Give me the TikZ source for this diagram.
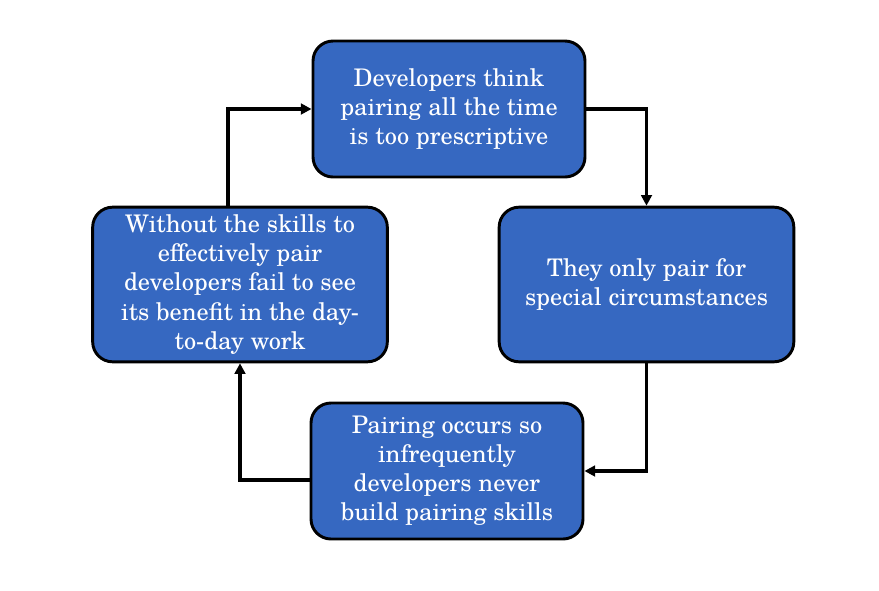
\documentclass[tikz,border=0pt]{standalone}
\usepackage{fontspec}
\setmainfont{TeX Gyre Schola}
\usepackage{tikz}
\usetikzlibrary{arrows.meta,positioning}
\definecolor{boxblue}{RGB}{54,104,193}
\tikzset{
  box/.style={rectangle,rounded corners=15pt,draw=black,line width=2.2pt,fill=boxblue,
              text=white,align=center,inner sep=4pt,
              font=\fontsize{18.2}{21.8}\selectfont},
  wbox/.style={box,minimum width=204pt,minimum height=102pt},
  hbox/.style={box,minimum width=221pt,minimum height=116pt},
  fl/.style={-{Triangle[length=8pt,width=8pt]},draw=black,line width=2.3pt},
}
\begin{document}
\begin{tikzpicture}[x=0.75pt,y=-0.75pt]
  \useasboundingbox (0,0) rectangle (879,590);
  \node[wbox] (thk) at (449,109) {Developers think\\pairing all the time\\is too prescriptive};
  \node[hbox] (spc) at (646.5,284.5) {They only pair for\\special circumstances};
  \node[wbox] (inf) at (447,471) {Pairing occurs so\\infrequently\\developers never\\build pairing skills};
  \node[hbox] (skl) at (240,284.5) {Without the skills to\\effectively pair\\developers fail to see\\its benefit in the day-\\to-day work};
  \draw[fl] (thk.east) -| (spc.north);
  \draw[fl] (spc.south) |- (inf.east);
  \draw[fl] ([yshift=-6.75pt]inf.west) -| (skl.south);
  \draw[fl] ([xshift=-9pt]skl.north) |- (thk.west);
\end{tikzpicture}
\end{document}
